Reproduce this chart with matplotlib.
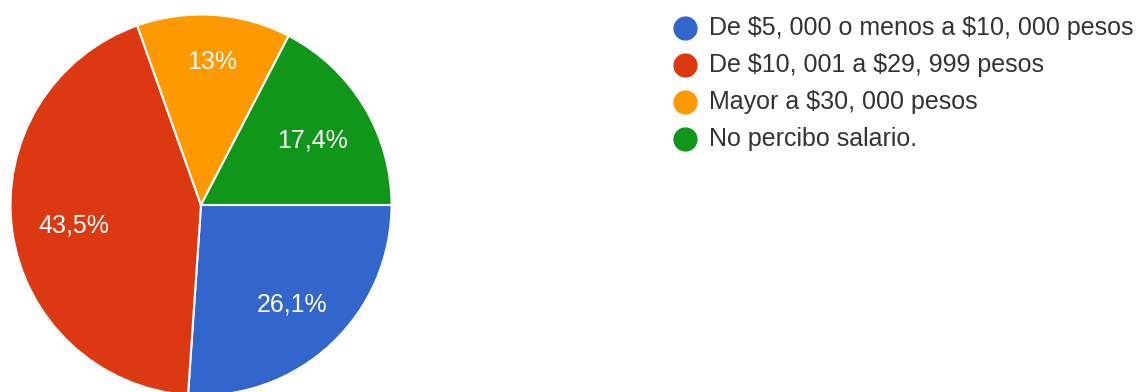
import matplotlib
matplotlib.use('Agg')
import matplotlib.pyplot as plt
import numpy as np

# respuestas (23 en total)
categories = ['De $5, 000 o menos a $10, 000 pesos',
              'De $10, 001 a $29, 999 pesos',
              'Mayor a $30, 000 pesos',
              'No percibo salario.']
counts = [6, 10, 3, 4]
pct_labels = ['26,1%', '43,5%', '13%', '17,4%']
colors = ['#3366CC', '#DC3912', '#FF9900', '#109618']

plt.rcParams['font.family'] = ['Liberation Sans', 'DejaVu Sans']
plt.rcParams['text.parse_math'] = False

W, H = 1145, 392
fig = plt.figure(figsize=(W / 100, H / 100), dpi=100)
ax = fig.add_axes([0, 0, 1, 1])

cx, cy, r = 201, H - 205, 190.5
wedges, _ = ax.pie(counts, colors=colors, startangle=0, counterclock=False,
                   center=(cx, cy), radius=r,
                   wedgeprops=dict(edgecolor='white', linewidth=1.5))

# etiquetas de porcentaje dentro de cada rebanada
dist = [0.69, 0.68, 0.77, 0.68]
for w, lab, f in zip(wedges, pct_labels, dist):
    ang = np.deg2rad((w.theta1 + w.theta2) / 2)
    d = f * r
    ax.text(cx + d * np.cos(ang) + 1, cy + d * np.sin(ang) - 3, lab,
            ha='center', va='center', color='white', fontsize=18)

# leyenda a la derecha
lx, ly0, dy = 685, H - 28, 37
for i, (cat, col) in enumerate(zip(categories, colors)):
    y = ly0 - i * dy
    ax.scatter([lx], [y], s=270, color=col, zorder=3)
    ax.text(lx + 24, y, cat, ha='left', va='center', fontsize=18, color='#333333')

ax.set_xlim(0, W)
ax.set_ylim(0, H)
ax.set_aspect('auto')
ax.axis('off')

fig.savefig('out.png', dpi=100, facecolor='white')
